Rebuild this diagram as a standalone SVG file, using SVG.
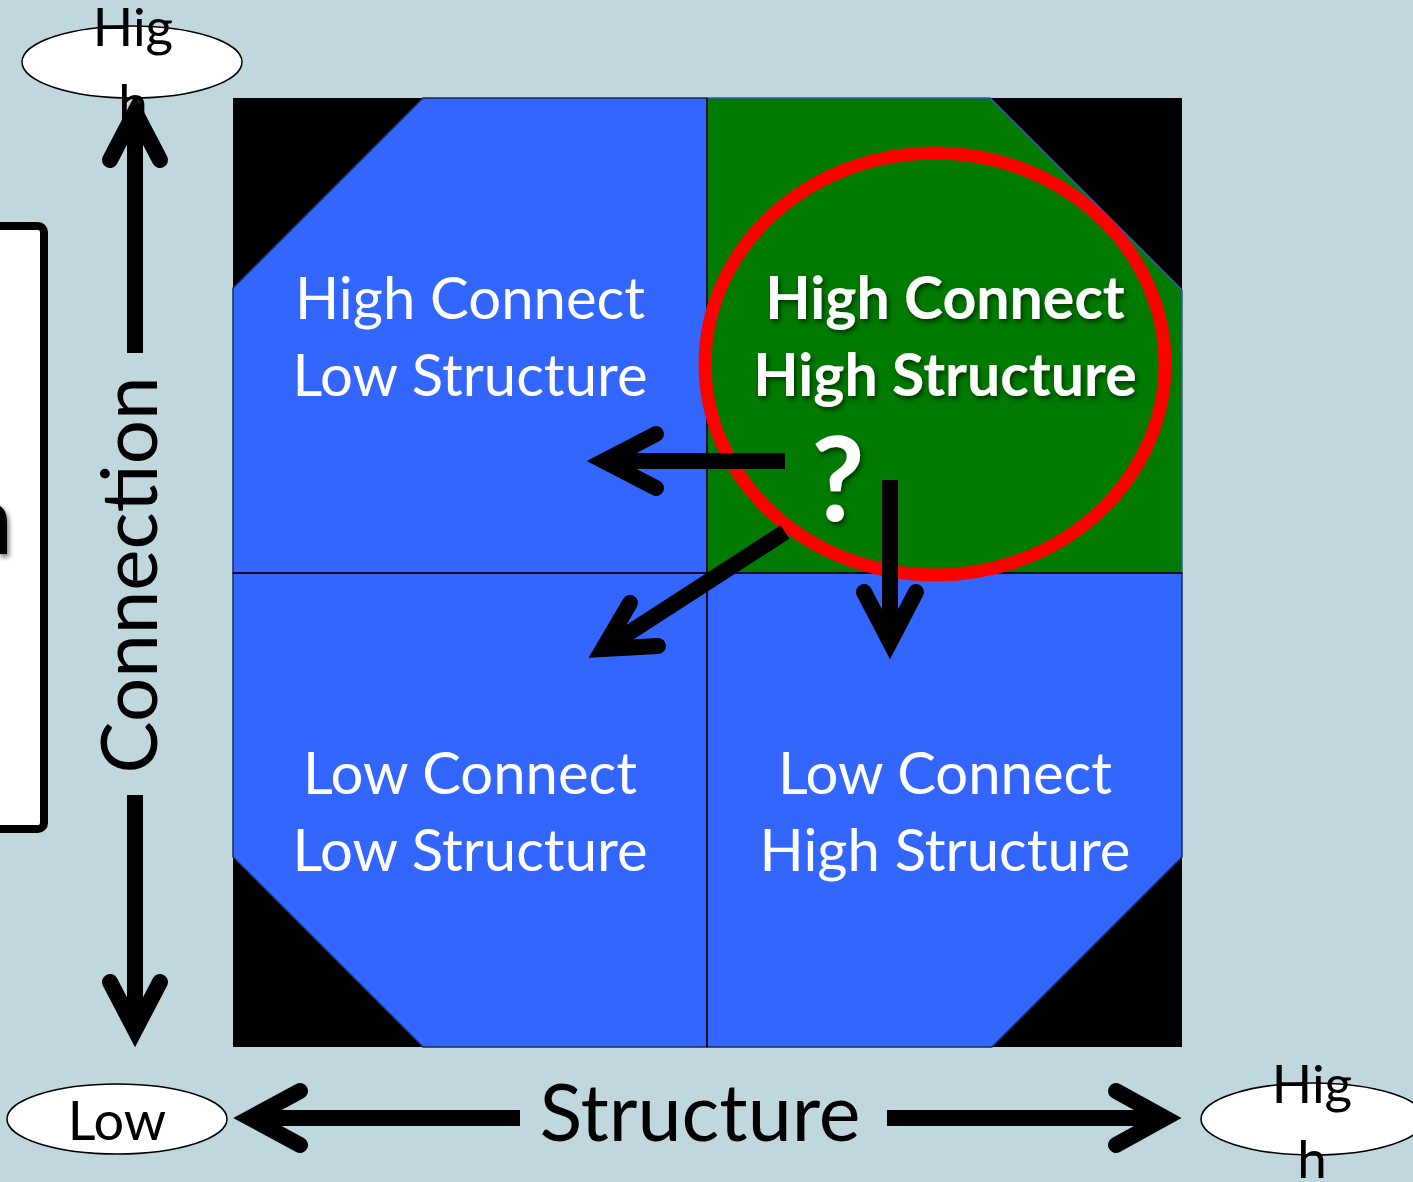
<svg xmlns="http://www.w3.org/2000/svg" width="1413" height="1182" viewBox="0 0 1413 1182">
<defs>
<style>
.lbl{font-family:Lato,"Open Sans","Liberation Sans",sans-serif;fill:#fff;font-size:58px;text-anchor:middle}
.bold{font-weight:bold;font-size:59px}
.sh{filter:url(#shadow)}
.shaft{stroke:#000;stroke-width:16;fill:none;stroke-linecap:butt}
.head{stroke:#000;stroke-width:16;fill:none;stroke-linecap:round;stroke-linejoin:miter;stroke-miterlimit:10}
.axis{font-family:Lato,"Open Sans","Liberation Sans",sans-serif;fill:#000;text-anchor:middle}
.ell{fill:#fff;stroke:#000;stroke-width:1.5}
.quad{stroke:#1a2a60;stroke-width:1.5}
</style>
<filter id="shadow" x="-10%" y="-10%" width="120%" height="130%">
<feDropShadow dx="2" dy="3" stdDeviation="2.5" flood-color="#000" flood-opacity="0.55"/>
</filter>
</defs>
<rect x="0" y="0" width="1413" height="1182" fill="#c0d7dd"/>

<g id="left-box">
<rect x="-60" y="226" width="104" height="603" rx="6" fill="#fff" stroke="#000" stroke-width="8"/>
<text x="-14" y="554" class="axis sh" style="font-size:98px">n</text>
</g>

<g id="grid">
<rect x="233" y="98" width="949" height="949" fill="#000"/>
<g id="q-tl"><polygon class="quad" points="423,98 707,98 707,573 233,573 233,288" fill="#3366ff"/></g>
<g id="q-tr"><polygon points="707,98 990,98 1182,290 1182,573 707,573" fill="#007a00" stroke="#3a5ab0" stroke-width="1.5"/></g>
<g id="q-bl"><polygon class="quad" points="233,573 707,573 707,1047 423,1047 233,857" fill="#3366ff"/></g>
<g id="q-br"><polygon class="quad" points="707,573 1182,573 1182,857 992,1047 707,1047" fill="#3366ff"/></g>
<line x1="707" y1="98" x2="707" y2="1047" stroke="#000" stroke-width="1.5"/>
<line x1="233" y1="573" x2="1182" y2="573" stroke="#000" stroke-width="1.5"/>
</g>

<g id="highlight">
<ellipse cx="935" cy="364" rx="230" ry="211" fill="none" stroke="#ff0000" stroke-width="13"/>
</g>

<g id="labels">
<text class="lbl" x="470" y="319">High Connect</text>
<text class="lbl" x="470" y="396">Low Structure</text>
<text class="lbl bold sh" x="945" y="319">High Connect</text>
<text class="lbl bold sh" x="945" y="396">High Structure</text>
<text class="lbl" x="470" y="794">Low Connect</text>
<text class="lbl" x="470" y="871">Low Structure</text>
<text class="lbl" x="945" y="794">Low Connect</text>
<text class="lbl" x="945" y="871">High Structure</text>
<text class="lbl bold sh" x="838" y="521" style="font-size:116px">?</text>
</g>

<g id="connectors">
<line class="shaft" x1="785" y1="461" x2="608" y2="461"/>
<polyline class="head" points="656,434 604,461 656,488"/>
<line class="shaft" x1="785" y1="532" x2="607" y2="647"/>
<polyline class="head" points="630,603 603,649 658,646"/>
<line class="shaft" x1="890" y1="480" x2="890" y2="640"/>
<polyline class="head" points="864,592 890,642 916,592"/>
<line class="shaft" x1="135" y1="353" x2="135" y2="110"/>
<polyline class="head" points="110,160 135,112 160,160"/>
<line class="shaft" x1="135" y1="795" x2="135" y2="1028"/>
<polyline class="head" points="110,982 135,1030 160,982"/>
<line class="shaft" x1="520" y1="1118" x2="252" y2="1118"/>
<polyline class="head" points="300,1091 250,1118 300,1145"/>
<line class="shaft" x1="887" y1="1118" x2="1162" y2="1118"/>
<polyline class="head" points="1116,1091 1165,1118 1116,1145"/>
</g>

<g id="axis-labels">
<text class="axis" style="font-size:78px" transform="translate(157,575) rotate(-90)">Connection</text>
<text class="axis" style="font-size:79px" x="700" y="1141">Structure</text>
</g>

<g id="ell-top">
<ellipse class="ell" cx="132" cy="62" rx="110" ry="36"/>
<text class="axis" style="font-size:53px" x="133" y="46">Hig</text>
<text class="axis" style="font-size:53px" x="133" y="122">h</text>
</g>
<g id="ell-low">
<ellipse class="ell" cx="117" cy="1119" rx="110" ry="35"/>
<text class="axis" style="font-size:54px" x="117" y="1140">Low</text>
</g>
<g id="ell-right">
<ellipse class="ell" cx="1313" cy="1119" rx="112" ry="36"/>
<text class="axis" style="font-size:53px" x="1312" y="1103">Hig</text>
<text class="axis" style="font-size:53px" x="1312" y="1178">h</text>
</g>
</svg>
